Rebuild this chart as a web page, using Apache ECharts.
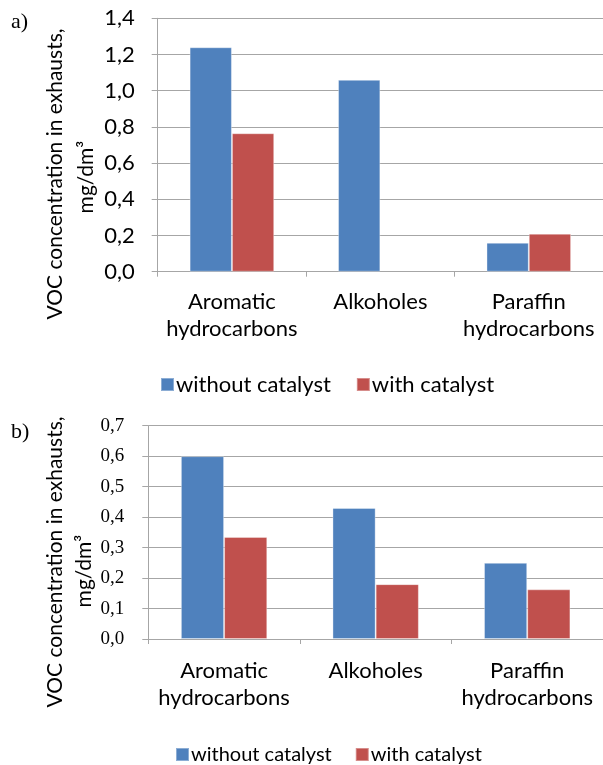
<!DOCTYPE html>
<html>
<head>
<meta charset="utf-8">
<script src="https://cdn.jsdelivr.net/npm/echarts@6/dist/echarts.min.js"></script>
<style>html,body{margin:0;padding:0;background:#fff}#c{width:603px;height:765px}</style>
</head>
<body>
<div id="c"></div>
<script>
var categories = ['Aromatic\nhydrocarbons', 'Alkoholes', 'Paraffin\nhydrocarbons'];
var seriesNames = ['without catalyst', 'with catalyst'];
var panelA_without = [1.24, 1.06, 0.16];
var panelA_with = [0.765, null, 0.21];
var panelB_without = [0.60, 0.43, 0.25];
var panelB_with = [0.335, 0.18, 0.163];
var panelA_max = 1.4, panelA_step = 0.2;
var panelB_max = 0.7, panelB_step = 0.1;
var yTitle1 = 'VOC concentration in exhausts,';
var yTitle2 = 'mg/dm³';

var BLUE = '#4F81BD', RED = '#C0504D', GRID = '#A6A6A6';
var SANS = 'Lato, "Open Sans", sans-serif';
var SERIF = '"Liberation Serif", "DejaVu Serif", serif';
function fmt(v){ return v.toFixed(1).replace('.', ','); }

var chart = echarts.init(document.getElementById('c'), null, {renderer:'canvas'});

function xAxis(idx, margin){
  return {
    type:'category', gridIndex: idx, data: categories,
    axisLine:{lineStyle:{color:GRID, width:1}},
    axisTick:{show:true, length:5, lineStyle:{color:GRID}},
    axisLabel:{color:'#000', fontFamily:SANS, fontSize:22, lineHeight:27, margin:margin, interval:0}
  };
}
function yAxis(idx, max, step, font, size, margin){
  return {
    type:'value', gridIndex: idx, min:0, max:max, interval:step,
    axisLine:{show:true, lineStyle:{color:GRID, width:1}},
    axisTick:{show:true, length:6, lineStyle:{color:GRID}},
    splitLine:{lineStyle:{color:GRID, width:1}},
    axisLabel:{color:'#000', fontFamily:font, fontSize:size, margin:margin, formatter:fmt}
  };
}
function bar(name, data, idx, color){
  return {
    type:'bar', name:name, xAxisIndex:idx, yAxisIndex:idx, data:data,
    barWidth:'28.5%', barGap:'0%',
    itemStyle:{color:color, borderColor:'rgba(255,255,255,0.35)', borderWidth:1},
    silent:true, animation:false
  };
}
function legend(left, top, size, gap){
  return {
    left:left, top:top, padding:0, itemWidth:13, itemHeight:13, itemGap:gap, icon:'rect',
    data:seriesNames, selectedMode:false,
    textStyle:{color:'#000', fontFamily:SANS, fontSize:size, lineHeight:size, padding:[0,0,0,-3]}
  };
}
function title(x, y, txt){
  return {type:'text', x:x, y:y, rotation:Math.PI/2,
    style:{text:txt, fontFamily:SANS, fontSize:21, fill:'#000', textAlign:'center', textVerticalAlign:'middle'}};
}

chart.setOption({
  animation:false,
  grid:[
    {left:157.7, top:18.3, width:450, height:253.4},
    {left:148.3, top:425.7, width:463, height:213.3}
  ],
  xAxis:[xAxis(0, 17), xAxis(1, 18)],
  yAxis:[yAxis(0, panelA_max, panelA_step, SANS, 22, 23),
         yAxis(1, panelB_max, panelB_step, SERIF, 19, 24)],
  legend:[legend(160, 373.5, 22, 25), legend(175, 744.5, 20, 23)],
  series:[
    bar(seriesNames[0], panelA_without, 0, BLUE),
    bar(seriesNames[1], panelA_with, 0, RED),
    bar(seriesNames[0], panelB_without, 1, BLUE),
    bar(seriesNames[1], panelB_with, 1, RED)
  ],
  graphic:[
    {type:'text', x:11, y:11, style:{text:'a)', fontFamily:SERIF, fontSize:22, fill:'#000'}},
    {type:'text', x:11, y:421, style:{text:'b)', fontFamily:SERIF, fontSize:22, fill:'#000'}},
    title(55, 174, yTitle1), title(86, 177, yTitle2),
    title(55, 562, yTitle1), title(84, 571, yTitle2)
  ]
});
</script>
</body>
</html>
